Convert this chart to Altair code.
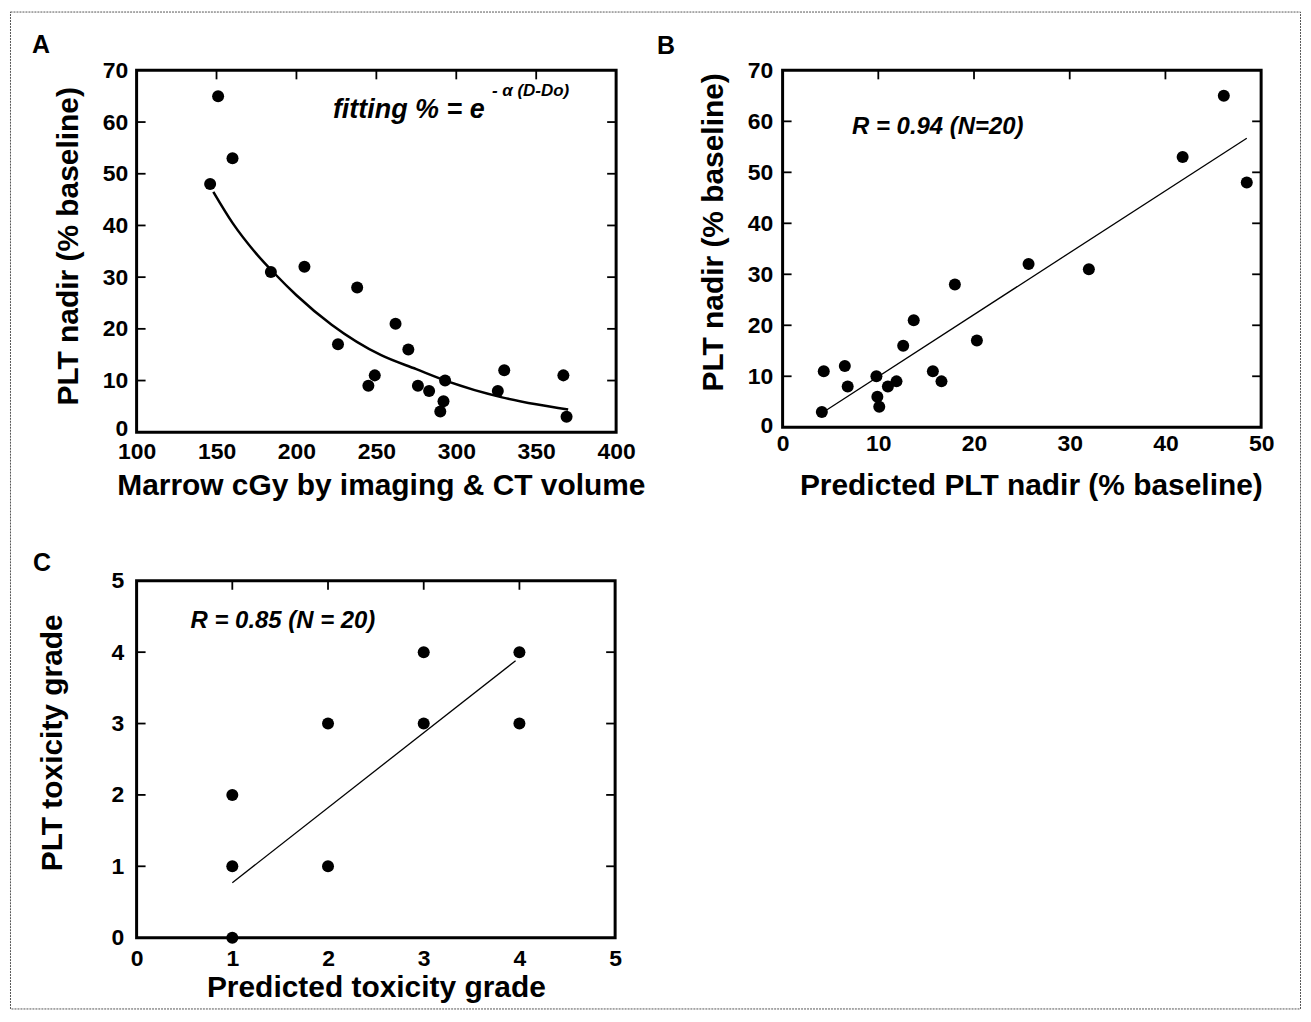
import altair as alt
import pandas as pd

FONT = "Liberation Sans"

# ---------------- Panel A ----------------
a_dose = [151, 160, 146, 184, 205, 238, 226, 262, 270, 245, 249, 276, 283, 293, 292, 290, 326, 330, 367, 369]
a_plt = [65, 53, 48, 31, 32, 28, 17, 21, 16, 9, 11, 9, 8, 10, 6, 4, 8, 12, 11, 3]
a_fit_dose = [148, 160, 175, 186, 200, 222, 253, 275, 295, 328, 350, 370]
a_fit_plt = [46.5, 40.5, 34.5, 30.8, 26.5, 20.8, 14.9, 12.2, 9.8, 6.8, 5.4, 4.4]
a_xticks = [100, 150, 200, 250, 300, 350, 400]
a_yticks = [0, 10, 20, 30, 40, 50, 60, 70]

# ---------------- Panel B ----------------
b_pred = [46.1, 41.8, 48.5, 25.7, 32.0, 18.0, 13.7, 20.3, 12.6, 4.3, 6.5, 6.8, 9.8, 11.0, 11.9, 15.7, 16.6, 9.9, 10.1, 4.1]
b_obs = [65, 53, 48, 32, 31, 28, 21, 17, 16, 11, 12, 8, 10, 8, 9, 11, 9, 6, 4, 3]
b_fit_pred = [4.6, 48.5]
b_fit_obs = [3.4, 56.7]
b_xticks = [0, 10, 20, 30, 40, 50]
b_yticks = [0, 10, 20, 30, 40, 50, 60, 70]

# ---------------- Panel C ----------------
c_pred = [1, 1, 1, 2, 2, 3, 3, 4, 4]
c_obs = [0, 1, 2, 1, 3, 3, 4, 3, 4]
c_fit_pred = [1.0, 3.96]
c_fit_obs = [0.77, 3.88]
c_ticks = [0, 1, 2, 3, 4, 5]


def make_panel(letter, letter_xy, w, h, xdom, ydom, xticks, yticks, xtitle, ytitle,
               xt_xy, yt_xy, xs_vals, ys_vals, fx, fy, fit_width, notes, x_lpad, y_lpad,
               zero_shift=0, frame=None):
    xs = alt.Scale(domain=xdom, nice=False, zero=False)
    ys = alt.Scale(domain=ydom, nice=False, zero=False)
    xa = alt.Axis(values=xticks, title=xtitle, domain=False, ticks=False, tickSize=0, grid=False,
                  labelFont=FONT, labelFontSize=23, labelFontWeight="bold", labelColor="black",
                  labelPadding=x_lpad, labelFlush=False, labelOverlap=False, format="d",
                  titleFont=FONT, titleFontSize=30, titleFontWeight="bold", titleColor="black",
                  titleX=xt_xy[0], titleY=xt_xy[1], titleBaseline="alphabetic", titleAlign="center")
    ya = alt.Axis(values=yticks, title=ytitle, domain=False, ticks=False, tickSize=0, grid=False,
                  labelFont=FONT, labelFontSize=23, labelFontWeight="bold", labelColor="black",
                  labelPadding=y_lpad, labelFlush=False, labelOverlap=False, format="d",
                  labelOffset={"condition": {"test": "datum.value === 0", "value": zero_shift},
                               "value": 0},
                  titleFont=FONT, titleFontSize=30, titleFontWeight="bold", titleColor="black",
                  titleX=yt_xy[0], titleY=yt_xy[1], titleBaseline="alphabetic", titleAlign="center",
                  titleAngle=270)

    def X(f):
        return alt.X(f, type="quantitative", scale=xs, axis=xa)

    def Y(f):
        return alt.Y(f, type="quantitative", scale=ys, axis=ya)

    pts = alt.Chart(pd.DataFrame({"x": xs_vals, "y": ys_vals})).mark_circle(
        size=145, color="black", opacity=1).encode(x=X("x"), y=Y("y"))
    fit = alt.Chart(pd.DataFrame({"x": fx, "y": fy})).mark_line(
        color="black", strokeWidth=fit_width, interpolate="monotone").encode(x=X("x"), y=Y("y"))

    inner_y = pd.DataFrame({"v": yticks[1:-1]})
    inner_x = pd.DataFrame({"v": xticks[1:-1]})
    tl = alt.Chart(inner_y).mark_rule(color="black", strokeWidth=1.8).encode(
        y=Y("v"), x=alt.value(0), x2=alt.value(9))
    tr = alt.Chart(inner_y).mark_rule(color="black", strokeWidth=1.8).encode(
        y=Y("v"), x=alt.value(w - 9), x2=alt.value(w))
    tt = alt.Chart(inner_x).mark_rule(color="black", strokeWidth=1.8).encode(
        x=X("v"), y=alt.value(0), y2=alt.value(9))

    layers = []
    if frame is not None:
        layers.append(
            alt.Chart(pd.DataFrame({"f": [1]})).mark_rect(
                fillOpacity=0, stroke="#555555", strokeWidth=1, strokeDash=[2, 1]).encode(
                x=alt.value(frame[0]), y=alt.value(frame[1]),
                x2=alt.value(frame[2]), y2=alt.value(frame[3])))
    layers += [tl, tr, tt, fit, pts]
    for (nx, ny, txt, size) in notes:
        layers.append(
            alt.Chart(pd.DataFrame({"x": [nx], "y": [ny], "t": [txt]})).mark_text(
                align="left", baseline="alphabetic", font=FONT, fontSize=size,
                fontWeight="bold", fontStyle="italic", color="black").encode(
                x=X("x"), y=Y("y"), text="t:N"))
    layers.append(
        alt.Chart(pd.DataFrame({"t": [letter]})).mark_text(
            align="left", baseline="alphabetic", font=FONT, fontSize=25,
            fontWeight="bold", color="black").encode(
            x=alt.value(letter_xy[0]), y=alt.value(letter_xy[1]), text="t:N"))
    return alt.layer(*layers).properties(width=w, height=h)


pa = make_panel("A", (-105, -17), 481, 363, [100, 400], [0, 70], a_xticks, a_yticks,
                "Marrow cGy by imaging & CT volume", "PLT nadir (% baseline)",
                (245, 62), (-59, 176), a_dose, a_plt, a_fit_dose, a_fit_plt, 2.5,
                [(222.8, 60.7, "fitting % = e", 27), (322.3, 65.1, "- α (D-Do)", 17)], 8, 9,
                zero_shift=-4, frame=(-126.5, -58.5, 1167.5, 941.5))

pb = make_panel("B", (-126, -16), 480, 358, [0, 50], [0, 70], b_xticks, b_yticks,
                "Predicted PLT nadir (% baseline)", "PLT nadir (% baseline)",
                (249, 67), (-60, 162), b_pred, b_obs, b_fit_pred, b_fit_obs, 1.3,
                [(7.26, 57.5, "R = 0.94 (N=20)", 24)], 5, 10, zero_shift=-2)

pc = make_panel("C", (-104, -10), 480, 358, [0, 5], [0, 5], c_ticks, c_ticks,
                "Predicted toxicity grade", "PLT toxicity grade",
                (240, 59), (-75, 162), c_pred, c_obs, c_fit_pred, c_fit_obs, 1.3,
                [(0.564, 4.34, "R = 0.85 (N = 20)", 24)], 10, 13)

chart = alt.concat(pa, pb, pc, columns=2, spacing={"row": 149, "column": 167},
                   bounds="flush", align="each").properties(
    padding={"left": 0, "top": 0, "right": 0, "bottom": 0}
).configure_view(stroke="black", strokeWidth=3)

chart.save("out.html", embed_options={"renderer": "svg", "actions": False})
